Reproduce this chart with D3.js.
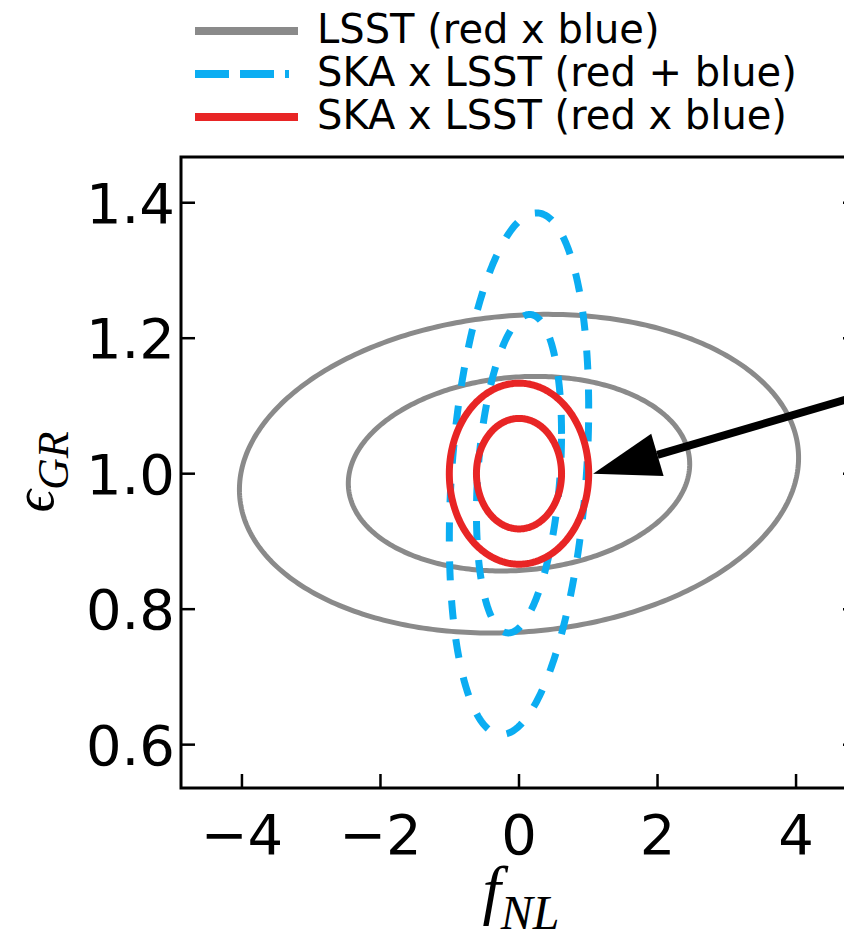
<!DOCTYPE html>
<html>
<head>
<meta charset="utf-8">
<script src="https://cdnjs.cloudflare.com/ajax/libs/d3/7.8.5/d3.min.js"></script>
<style>
body { margin:0; background:#fff; }
svg text { font-family: "DejaVu Sans", sans-serif; }
.math { font-family: "Liberation Serif", "DejaVu Serif", serif; font-style: italic; }
</style>
</head>
<body>
<svg id="chart" width="844" height="941"></svg>
<script>
// fisher forecast contours: fiducial, sigmas, correlation
var surveys = ["LSST (red x blue)", "SKA x LSST (red + blue)", "SKA x LSST (red x blue)"];
var colors = ["#8a8a8a", "#0badf2", "#e82525"];
var dashed = [false, true, false];
var centerF = [0, 0, 0];
var centerE = [1.0, 1.0, 1.0];
var sigmaF = [1.625, 0.405, 0.405];
var sigmaE = [0.0947, 0.155, 0.0538];
var corr = [0.10, 0.25, 0.0];
var chi2Levels = [2.30, 6.17];   // 1 sigma, 2 sigma

var xTicks = [-4, -2, 0, 2, 4];
var yTicks = [0.6, 0.8, 1.0, 1.2, 1.4];
var arrowFrom = [6.94, 1.176], arrowTo = [1.07, 1.0];

var svg = d3.select("#chart");

var x = d3.scaleLinear().domain([-4.88, 4.88]).range([181, 857]);
var y = d3.scaleLinear().domain([0.536, 1.4675]).range([788, 157]);

svg.append("defs").append("clipPath").attr("id", "plotClip")
  .append("rect")
  .attr("x", x.range()[0]).attr("y", y.range()[1])
  .attr("width", x.range()[1] - x.range()[0])
  .attr("height", y.range()[0] - y.range()[1]);

var plot = svg.append("g").attr("clip-path", "url(#plotClip)");

var line = d3.line().x(function(d){ return x(d[0]); }).y(function(d){ return y(d[1]); })
  .curve(d3.curveLinearClosed);

var ts = d3.range(0, 2 * Math.PI, Math.PI / 180);

surveys.forEach(function(s, i){
  chi2Levels.forEach(function(k){
    var r = Math.sqrt(k);
    var pts = ts.map(function(t){
      return [centerF[i] + r * sigmaF[i] * Math.cos(t),
              centerE[i] + r * sigmaE[i] * (corr[i] * Math.cos(t) + Math.sqrt(1 - corr[i] * corr[i]) * Math.sin(t))];
    });
    plot.append("path")
      .attr("d", line(pts))
      .attr("fill", "none")
      .attr("stroke", colors[i])
      .attr("stroke-width", dashed[i] ? 7 : (i == 2 ? 7 : 5))
      .attr("stroke-dasharray", dashed[i] ? "19,20" : null);
  });
});

// axes box
var axg = svg.append("g");
axg.append("rect")
  .attr("x", x.range()[0]).attr("y", y.range()[1])
  .attr("width", x.range()[1] - x.range()[0])
  .attr("height", y.range()[0] - y.range()[1])
  .attr("fill", "none").attr("stroke", "#000").attr("stroke-width", 3);

// ticks point inward
xTicks.forEach(function(v){
  axg.append("line").attr("x1", x(v)).attr("x2", x(v))
    .attr("y1", y.range()[0]).attr("y2", y.range()[0] - 14)
    .attr("stroke", "#000").attr("stroke-width", 2.5);
  axg.append("text").attr("x", x(v)).attr("y", y.range()[0] + 66)
    .attr("text-anchor", "middle").attr("font-size", 56)
    .text(v < 0 ? "\u2212" + Math.abs(v) : v);
});
yTicks.forEach(function(v){
  axg.append("line").attr("x1", x.range()[0]).attr("x2", x.range()[0] + 14)
    .attr("y1", y(v)).attr("y2", y(v))
    .attr("stroke", "#000").attr("stroke-width", 2.5);
  axg.append("line").attr("x1", x.range()[1]).attr("x2", x.range()[1] - 14)
    .attr("y1", y(v)).attr("y2", y(v))
    .attr("stroke", "#000").attr("stroke-width", 2.5);
  axg.append("text").attr("x", x.range()[0] - 6).attr("y", y(v) + 20)
    .attr("text-anchor", "end").attr("font-size", 56)
    .text(d3.format(".1f")(v));
});

// axis labels
var xl = svg.append("text").attr("class", "math").attr("x", 521).attr("y", 912)
  .attr("text-anchor", "middle").attr("font-size", 66);
xl.append("tspan").text("f");
xl.append("tspan").attr("font-size", 48).attr("dy", 17).text("NL");

var yl = svg.append("text").attr("class", "math")
  .attr("transform", "translate(53,472) rotate(-90)")
  .attr("text-anchor", "middle").attr("font-size", 56);
yl.append("tspan").text("\u03f5");
yl.append("tspan").attr("font-size", 44).attr("dy", 15).text("GR");

// arrow
var ax1 = x(arrowFrom[0]), ay1 = y(arrowFrom[1]), ax2 = x(arrowTo[0]), ay2 = y(arrowTo[1]);
var ang = Math.atan2(ay1 - ay2, ax1 - ax2);
var headL = 67, headW = 22;
var bx = ax2 + headL * Math.cos(ang), by = ay2 + headL * Math.sin(ang);
svg.append("line").attr("x1", ax1).attr("y1", ay1).attr("x2", bx).attr("y2", by)
  .attr("stroke", "#000").attr("stroke-width", 8);
svg.append("path")
  .attr("d", "M" + ax2 + "," + ay2 +
    "L" + (bx + headW * Math.sin(ang)) + "," + (by - headW * Math.cos(ang)) +
    "L" + (bx - headW * Math.sin(ang)) + "," + (by + headW * Math.cos(ang)) + "Z")
  .attr("fill", "#000");

// legend
var leg = svg.append("g");
surveys.forEach(function(s, i){
  var ly = 31 + i * 43;
  leg.append("line").attr("x1", 195).attr("x2", dashed[i] ? 289 : 298).attr("y1", ly).attr("y2", ly)
    .attr("stroke", colors[i]).attr("stroke-width", 8)
    .attr("stroke-dasharray", dashed[i] ? "34,11" : null);
  leg.append("text").attr("x", 317).attr("y", ly + 12).attr("font-size", 40).text(s);
});
</script>
</body>
</html>
